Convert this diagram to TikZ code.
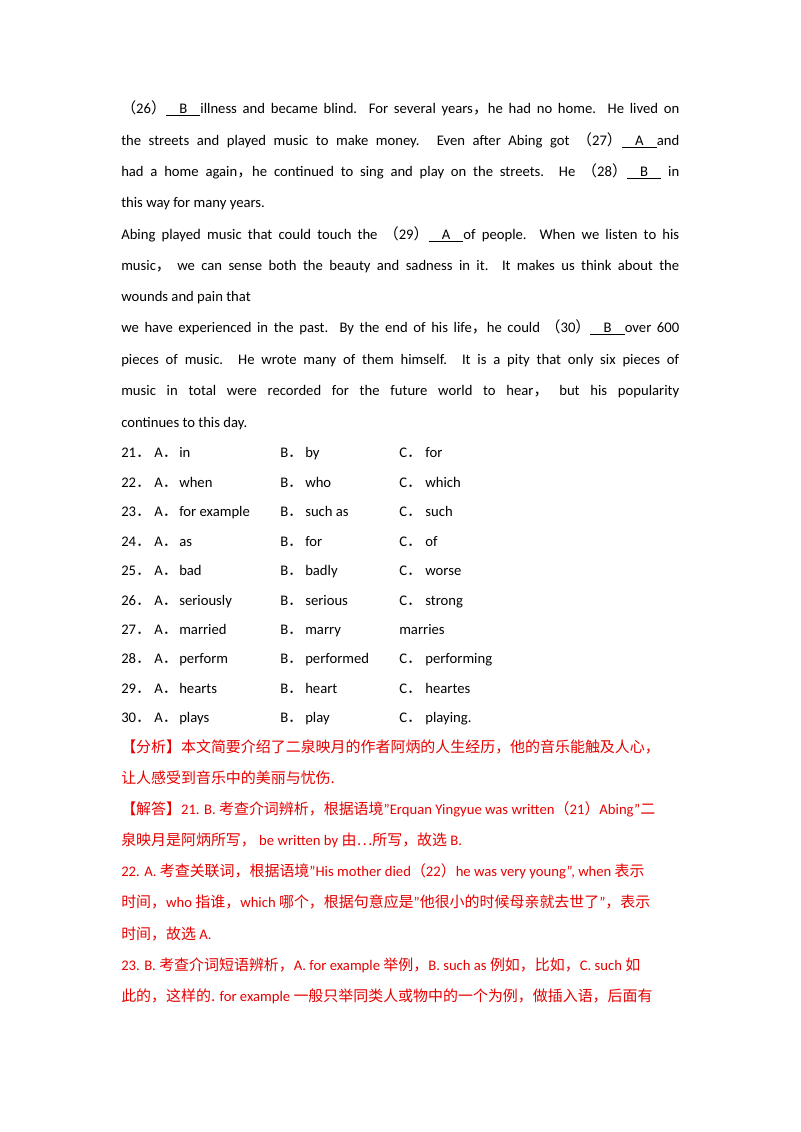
\documentclass[tikz,border=0pt]{standalone}
\usepackage{fontspec}
\setmainfont{Carlito}
\newfontfamily\cjk{Noto Sans CJK SC}[Scale=1.02]
\definecolor{ansred}{RGB}{230,0,0}
\newcommand\jl[2]{\node[anchor=base west,inner sep=0pt] at (121,#1) {\makebox[418.5pt][s]{#2}};}
\newcommand\lline[2]{\node[anchor=base west,inner sep=0pt] at (121,#1) {#2};}
\newcommand\bl[1]{\underline{\hspace{0.9em}#1\hspace{0.9em}}}
\newcommand\dt{{\cjk ．}}
\newcommand\opt[5]{%
\node[anchor=base west,inner sep=0pt] at (121,#1) {#2\dt};
\node[anchor=base west,inner sep=0pt] at (154,#1) {A\dt};
\node[anchor=base west,inner sep=0pt] at (179,#1) {#3};
\node[anchor=base west,inner sep=0pt] at (280,#1) {B\dt};
\node[anchor=base west,inner sep=0pt] at (305,#1) {#4};
\node[anchor=base west,inner sep=0pt] at (399,#1) {#5};}
\begin{document}
\begin{tikzpicture}[x=0.75pt,y=-0.75pt,font=\fontsize{11pt}{13pt}\selectfont]
\useasboundingbox (0,0) rectangle (800,1132);
\jl{113}{{\cjk（}26{\cjk）}\bl{B}illness and became blind. For several years{\cjk，}he had no home. He lived on}
\jl{145}{the streets and played music to make money. Even after Abing got {\cjk（}27{\cjk）}\bl{A}and}
\jl{176}{had a home again{\cjk，}he continued to sing and play on the streets. He {\cjk（}28{\cjk）}\bl{B} in}
\lline{207}{this way for many years.}
\jl{239}{Abing played music that could touch the {\cjk（}29{\cjk）}\bl{A}of people. When we listen to his}
\jl{270}{music{\cjk，} we can sense both the beauty and sadness in it. It makes us think about the}
\lline{301}{wounds and pain that}
\jl{332}{we have experienced in the past. By the end of his life{\cjk，}he could {\cjk（}30{\cjk）}\bl{B}over 600}
\jl{364}{pieces of music. He wrote many of them himself. It is a pity that only six pieces of}
\jl{395}{music in total were recorded for the future world to hear{\cjk，} but his popularity}
\lline{427}{continues to this day.}
\opt{457}{21}{in}{by}{C\dt\ for}
\opt{487}{22}{when}{who}{C\dt\ which}
\opt{516}{23}{for example}{such as}{C\dt\ such}
\opt{546}{24}{as}{for}{C\dt\ of}
\opt{575}{25}{bad}{badly}{C\dt\ worse}
\opt{605}{26}{seriously}{serious}{C\dt\ strong}
\opt{634}{27}{married}{marry}{marries}
\opt{663}{28}{perform}{performed}{C\dt\ performing}
\opt{693}{29}{hearts}{heart}{C\dt\ heartes}
\opt{722}{30}{plays}{play}{C\dt\ playing.}
\begin{scope}[color=ansred]
\lline{752}{\cjk【分析】本文简要介绍了二泉映月的作者阿炳的人生经历，他的音乐能触及人心，}
\lline{783}{\cjk 让人感受到音乐中的美丽与忧伤.}
\lline{814}{{\cjk【解答】}21. B. {\cjk 考查介词辨析，根据语境}"Erquan Yingyue was written{\cjk（}21{\cjk）}Abing"{\cjk 二}}
\lline{845}{{\cjk 泉映月是阿炳所写，} be written by {\cjk 由…所写，故选} B.}
\lline{876}{22. A. {\cjk 考查关联词，根据语境}"His mother died{\cjk（}22{\cjk）}he was very young", when {\cjk 表示}}
\lline{907}{{\cjk 时间，}who {\cjk 指谁，}which {\cjk 哪个，根据句意应是}"{\cjk 他很小的时候母亲就去世了}"{\cjk ，表示}}
\lline{939}{{\cjk 时间，故选} A.}
\lline{970}{23. B. {\cjk 考查介词短语辨析，}A. for example {\cjk 举例，}B. such as {\cjk 例如，比如，}C. such {\cjk 如}}
\lline{1001}{{\cjk 此的，这样的.} for example {\cjk 一般只举同类人或物中的一个为例，做插入语，后面有}}
\end{scope}
\end{tikzpicture}
\end{document}
